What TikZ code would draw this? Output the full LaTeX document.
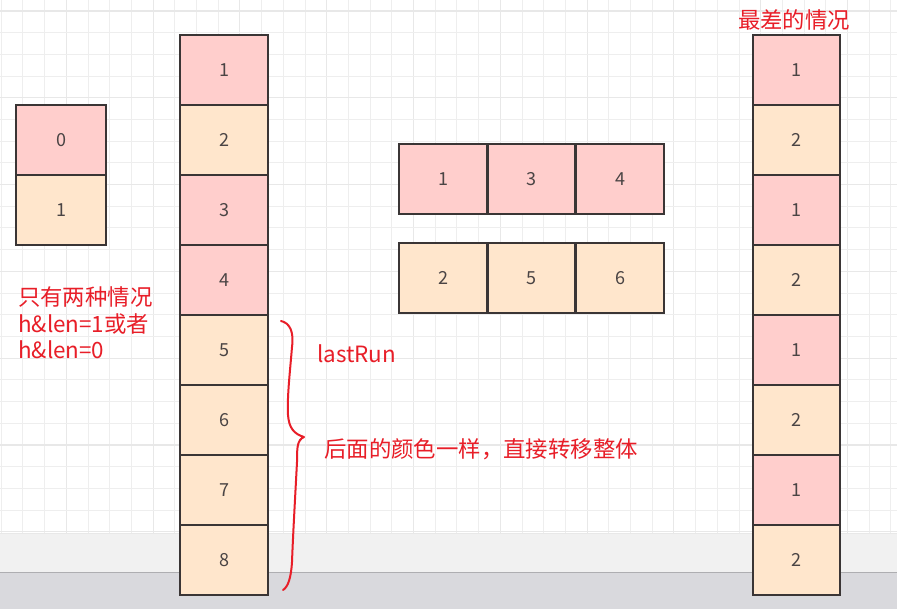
\documentclass[tikz,border=0pt]{standalone}
\usepackage{fontspec}
\setmainfont{Noto Sans CJK SC}
\definecolor{pinkfill}{HTML}{FFCECC}
\definecolor{orangefill}{HTML}{FFE6CC}
\definecolor{boxline}{HTML}{3A3535}
\definecolor{redtxt}{HTML}{E81E28}
\definecolor{numcol}{HTML}{4A4444}
\definecolor{gridminor}{HTML}{EEEEEE}
\definecolor{gridmajor}{HTML}{E8E8E8}
\definecolor{bandlight}{HTML}{F1F1F1}
\definecolor{banddark}{HTML}{D9D9DD}
\begin{document}
\begin{tikzpicture}[x=1bp,y=-1bp,
  cell/.style={draw=boxline,line width=2.4bp,minimum width=88bp,minimum height=70bp,inner sep=0pt,
    text=numcol,font=\fontsize{18bp}{20bp}\selectfont},
  pinkbox/.style={cell,fill=pinkfill},
  orangebox/.style={cell,fill=orangefill},
  note/.style={text=redtxt,font=\fontsize{22.4bp}{27bp}\selectfont,inner sep=0pt},
  bracepath/.style={draw=redtxt,line width=2bp,line cap=round,line join=round}]
\useasboundingbox (0,0) rectangle (897,609);
\fill[white] (0,0) rectangle (897,533);
% grid
\foreach \i in {0,...,41}{
  \pgfmathsetmacro{\gx}{1.2+21.7*\i}
  \pgfmathtruncatemacro{\m}{mod(\i,4)==3}
  \ifnum\m=1 \draw[gridmajor,line width=1.1bp] (\gx,0) -- (\gx,533);
  \else \draw[gridminor,line width=1bp] (\gx,0) -- (\gx,533); \fi
}
\foreach \j in {0,...,24}{
  \pgfmathsetmacro{\gy}{11+21.7*\j}
  \pgfmathtruncatemacro{\m}{mod(\j,4)==0}
  \ifnum\m=1 \draw[gridmajor,line width=1.1bp] (0,\gy) -- (897,\gy);
  \else \draw[gridminor,line width=1bp] (0,\gy) -- (897,\gy); \fi
}
% bottom bands
\fill[bandlight] (0,533) rectangle (897,572);
\fill[banddark] (0,572) rectangle (897,609);
\draw[color=banddark!80!black,line width=1.5bp] (0,572.5) -- (897,572.5);
\draw[color=gridmajor,line width=1bp] (0,533) -- (897,533);

% left column
\node[pinkbox,minimum width=90bp] (l0) at (61,140) {0};
\node[orangebox,minimum width=90bp] (l1) at (61,210) {1};

% middle column
\node[pinkbox] (m1) at (224,70) {1};
\node[orangebox] (m2) at (224,140) {2};
\node[pinkbox] (m3) at (224,210) {3};
\node[pinkbox] (m4) at (224,280) {4};
\node[orangebox] (m5) at (224,350) {5};
\node[orangebox] (m6) at (224,420) {6};
\node[orangebox] (m7) at (224,490) {7};
\node[orangebox] (m8) at (224,560) {8};

% rows
\node[pinkbox] (a1) at (443,179) {1};
\node[pinkbox] (a3) at (531.5,179) {3};
\node[pinkbox] (a4) at (620,179) {4};
\node[orangebox] (b2) at (443,278) {2};
\node[orangebox] (b5) at (531.5,278) {5};
\node[orangebox] (b6) at (620,278) {6};

% right column
\node[pinkbox,minimum width=87bp] (r1) at (796.5,70) {1};
\node[orangebox,minimum width=87bp] (r2) at (796.5,140) {2};
\node[pinkbox,minimum width=87bp] (r3) at (796.5,210) {1};
\node[orangebox,minimum width=87bp] (r4) at (796.5,280) {2};
\node[pinkbox,minimum width=87bp] (r5) at (796.5,350) {1};
\node[orangebox,minimum width=87bp] (r6) at (796.5,420) {2};
\node[pinkbox,minimum width=87bp] (r7) at (796.5,490) {1};
\node[orangebox,minimum width=87bp] (r8) at (796.5,560) {2};

% texts
\node[note,anchor=base] (worst) at (794,29) {最差的情况};
\node[note,anchor=base west] (onlytwo1) at (18,305) {只有两种情况};
\node[note,anchor=base west] (onlytwo2) at (18,332) {h\&len=1或者};
\node[note,anchor=base west] (onlytwo3) at (18,358) {h\&len=0};
\node[note,anchor=base west] (lastrun) at (317,362) {lastRun};
\node[note,anchor=base west] (same) at (324,457) {后面的颜色一样，直接转移整体};

% brace
\coordinate (bt) at (281,321);
\coordinate (bn) at (304,437);
\coordinate (bb) at (283,590);
\path[bracepath] (bt) .. controls (290,323) and (294,332) .. (292,347)
  .. controls (290,372) and (287,397) .. (288,415)
  .. controls (289,428) and (294,434) .. (bn)
  .. controls (297,440) and (297,448) .. (297,462)
  .. controls (295,500) and (293,535) .. (292,562)
  .. controls (291,578) and (288,587) .. (bb);
\end{tikzpicture}
\end{document}
